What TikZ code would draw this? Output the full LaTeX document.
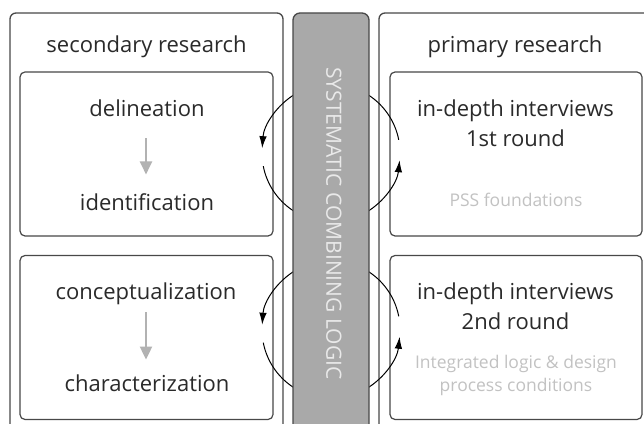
\documentclass[tikz,border=0pt]{standalone}
\usepackage{fontspec}
\setmainfont{Open Sans}
\usetikzlibrary{arrows.meta}
\definecolor{edge}{HTML}{484848}
\definecolor{ink}{HTML}{2A2A2A}
\definecolor{barfill}{HTML}{A9A9A9}
\definecolor{bartext}{HTML}{E9E9E9}
\definecolor{faint}{HTML}{C2C2C2}
\definecolor{flow}{HTML}{B2B2B2}
\begin{document}
\begin{tikzpicture}[x=1pt,y=1pt,
  frame/.style={draw=edge, line width=1.3pt, rounded corners=6pt, fill=white},
  panel/.style={draw=edge, line width=1.2pt, rounded corners=5pt, fill=white,
    minimum width=253pt, minimum height=164pt, inner sep=0pt},
  label/.style={text=ink, font=\fontsize{22}{26}\selectfont, anchor=base, inner sep=0pt},
  note/.style={text=faint, font=\fontsize{17.5}{21}\selectfont, anchor=base, inner sep=0pt},
  flowarrow/.style={draw=flow, line width=2pt, -{Triangle[length=13pt,width=12pt]}},
  loop/.style={draw=black, line width=1pt},
  looptip/.style={loop, -{Latex[length=12pt,width=7.5pt]}}
]
\useasboundingbox (0,0) rectangle (644,423);
\begin{scope}
\clip (0,0) rectangle (644,423);

% outer columns
\draw[frame] (10,-30) rectangle (283,410);
\draw[frame] (379,-30) rectangle (690,410);

% inner panels
\node[panel] (lp1) at (146.5,269) {};
\node[panel] (lp2) at (146.5,85.5) {};
\node[panel, minimum width=252pt] (rp1) at (516,269) {};
\node[panel, minimum width=252pt] (rp2) at (516,85.5) {};

% column headings
\node[label] (sec) at (146.5,370) {secondary research};
\node[label] (pri) at (515,370) {primary research};

% secondary research steps
\node[label] (del) at (147,306) {delineation};
\node[label] (idf) at (147,212) {identification};
\node[label] (con) at (146,124) {conceptualization};
\node[label] (cha) at (147,32) {characterization};

\draw[flowarrow, shorten <=21pt, shorten >=19.5pt] ([xshift=-1pt]del.south) -- ([xshift=-1pt]idf.north);
\draw[flowarrow, shorten <=8pt, shorten >=14.5pt] (con.south) -- (cha.north -| con.south);

% primary research steps
\node[label] (iv1) at (515.5,306) {in-depth interviews};
\node[label] (rd1) at (515.5,276) {1st round};
\node[note] (pss) at (516,216) {PSS foundations};
\node[label] (iv2) at (515.5,124) {in-depth interviews};
\node[label] (rd2) at (515.5,94) {2nd round};
\node[note] (il1) at (516,55) {Integrated logic \& design};
\node[note] (il2) at (516,32) {process conditions};

% combining loops
\coordinate (c1) at (331,270);
\coordinate (c2) at (331,93.5);
\foreach \c in {c1,c2}{
  \draw[looptip] (\c) ++(120:69) arc[start angle=120, end angle=176, radius=69];
  \draw[loop] (\c) ++(191:69) arc[start angle=191, end angle=240, radius=69];
  \draw[looptip] (\c) ++(300:69) arc[start angle=300, end angle=354, radius=69];
  \draw[loop] (\c) ++(11:69) arc[start angle=11, end angle=60, radius=69];
}

% central bar
\draw[draw=edge, line width=1.3pt, fill=barfill, rounded corners=7pt] (293,-30) rectangle (369,410);
\node[text=bartext, font=\fontsize{21}{25}\selectfont, rotate=-90, inner sep=0pt] (bar) at (334,199.5) {SYSTEMATIC COMBINING LOGIC};
\end{scope}
\end{tikzpicture}
\end{document}
